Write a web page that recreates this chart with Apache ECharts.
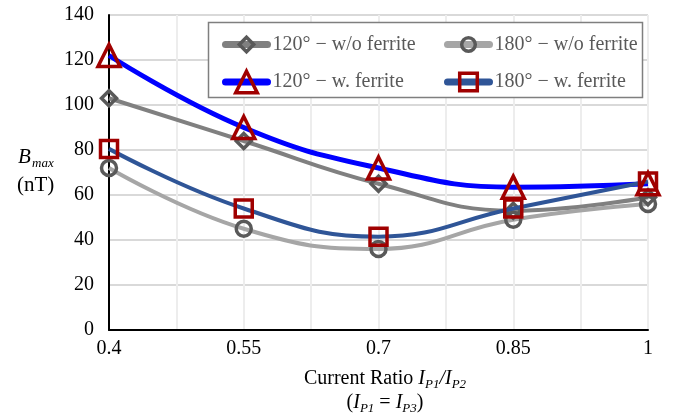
<!DOCTYPE html>
<html><head><meta charset="utf-8">
<script src="https://cdn.jsdelivr.net/npm/echarts@6/dist/echarts.min.js"></script>
<style>html,body{margin:0;padding:0;background:#fff}#c{width:684px;height:418px}</style>
</head><body><div id="c"></div>
<script>
const xValues = [0.4, 0.55, 0.7, 0.85, 1.0];
const xTickLabels = ['0.4', '', '0.55', '', '0.7', '', '0.85', '', '1'];
const yTicks = [0, 20, 40, 60, 80, 100, 120, 140];
const s120wo = [103, 84, 65, 53, 59];
const s180wo = [72, 45, 36, 49, 56];
const s120w = [122, 90, 72, 63.5, 65];
const s180w = [80.5, 54, 41.5, 54, 66];
const names = ['120° − w/o ferrite', '180° − w/o ferrite', '120° − w. ferrite', '180° − w. ferrite'];

const pts = arr => xValues.map((x, i) => [x, arr[i]]);
const FONT = '"Liberation Serif", "Times New Roman", serif';

const chart = echarts.init(document.getElementById('c'), null, {renderer: 'canvas'});
function lineSeries(name, data, color, width, symbol, size, mColor, z) {
  return {
    name, type: 'line', data: pts(data), smooth: 0.45, z,
    symbol, symbolSize: size,
    lineStyle: {color, width},
    itemStyle: {color: 'rgba(0,0,0,0)', borderColor: mColor, borderWidth: 3.5},
    emphasis: {disabled: true}
  };
}
const legendText = {fontFamily: FONT, fontSize: 20, color: '#595959'};
function legendItem(name, left, center, ih) {
  const th = 23;
  return {
    data: [name], left, top: center - Math.max(ih, th) / 2,
    itemWidth: 42, itemHeight: ih, textStyle: legendText, z: 10,
    lineStyle: {width: 7, cap: 'round'}, itemStyle: {borderWidth: 3.5}
  };
}
chart.setOption({
  animation: false,
  grid: {left: 109, right: 36, top: 15, bottom: 88, containLabel: false},
  xAxis: {
    type: 'value', min: 0.4, max: 1, interval: 0.075,
    axisLine: {show: true, lineStyle: {color: '#000', width: 2}},
    axisTick: {show: false},
    splitLine: {show: true, lineStyle: {color: '#EDEDED', width: 2}},
    axisLabel: {
      fontFamily: FONT, fontSize: 20, color: '#000', margin: 9,
      formatter: (v, i) => xTickLabels[i] !== undefined ? xTickLabels[i] : ''
    }
  },
  yAxis: {
    type: 'value', min: yTicks[0], max: yTicks[yTicks.length - 1], interval: 20,
    axisLine: {show: true, lineStyle: {color: '#000', width: 2}},
    axisTick: {show: false},
    splitLine: {show: true, lineStyle: {color: '#D9D9D9', width: 2}},
    axisLabel: {fontFamily: FONT, fontSize: 20, color: '#000', margin: 15}
  },
  legend: [
    legendItem(names[0], 217, 41, 18),
    legendItem(names[1], 439, 41, 17),
    legendItem(names[2], 217, 78, 27),
    legendItem(names[3], 439, 78, 22)
  ],
  graphic: [
    {type: 'rect', shape: {x: 208.5, y: 22.5, width: 434, height: 75}, z: 5,
     style: {fill: '#fff', stroke: '#7F7F7F', lineWidth: 1.5}},
    {type: 'text', left: 18, top: 147, z: 5, style: {text: 'B', font: 'italic 21px ' + FONT, fill: '#000'}},
    {type: 'text', left: 32, top: 157, z: 5, style: {text: 'max', font: 'italic 13px ' + FONT, fill: '#000'}},
    {type: 'text', left: 17, top: 175, z: 5, style: {text: '(nT)', font: '21px ' + FONT, fill: '#000'}},
    {type: 'text', x: 385, y: 391, z: 5, style: {
      text: '{r|Current Ratio }{i|I}{s|P1}{i|/I}{s|P2}\n{r|(}{i|I}{s|P1}{r| = }{i|I}{s|P3}{r|)}',
      align: 'center', verticalAlign: 'middle',
      rich: {
        r: {font: '20px ' + FONT, fill: '#000', lineHeight: 24, verticalAlign: 'middle'},
        i: {font: 'italic 20px ' + FONT, fill: '#000', lineHeight: 24, verticalAlign: 'middle'},
        s: {font: 'italic 13px ' + FONT, fill: '#000', lineHeight: 24, verticalAlign: 'bottom'}
      }
    }}
  ],
  series: [
    lineSeries(names[0], s120wo, '#808080', 4, 'diamond', 15, '#595959', 3),
    lineSeries(names[1], s180wo, '#A6A6A6', 4, 'circle', 15, '#595959', 3),
    lineSeries(names[2], s120w, '#0000FF', 5, 'triangle', 22, '#A00000', 4),
    lineSeries(names[3], s180w, '#2F5597', 4, 'rect', 17, '#A00000', 4)
  ]
});
</script></body></html>
